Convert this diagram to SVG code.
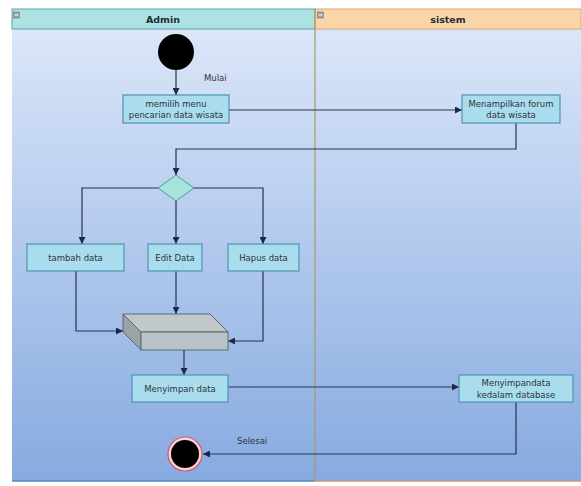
<svg xmlns="http://www.w3.org/2000/svg" width="581" height="486" viewBox="0 0 581 486">
  <defs>
    <linearGradient id="laneBg" x1="0" y1="0" x2="0" y2="1">
      <stop offset="0" stop-color="#dbe6f9"/>
      <stop offset="1" stop-color="#86aae0"/>
    </linearGradient>
    <marker id="arrow" viewBox="0 0 10 10" refX="10" refY="5" markerWidth="7" markerHeight="7" orient="auto" markerUnits="userSpaceOnUse">
      <path d="M0,0 L10,5 L0,10 Z" fill="#1c2a48"/>
    </marker>
    <style>
      .act { fill: #a9dcec; stroke: #4d93b4; stroke-width: 1.2; }
      .lbl { font-family: "DejaVu Sans", "Liberation Sans", sans-serif; font-size: 8.5px; fill: #2e3440; text-anchor: middle; }
      .note { font-family: "DejaVu Sans", "Liberation Sans", sans-serif; font-size: 8.5px; fill: #2e3440; }
      .hdr { font-family: "DejaVu Sans", "Liberation Sans", sans-serif; font-size: 9.5px; font-weight: bold; fill: #1f2a36; text-anchor: middle; }
      .flow { fill: none; stroke: #25344f; stroke-width: 1.2; marker-end: url(#arrow); }
      .flowPlain { fill: none; stroke: #25344f; stroke-width: 1.2; }
      .toggle { fill: #9aa4a8; stroke: #6b7478; stroke-width: 0.6; }
    </style>
  </defs>

  <rect width="581" height="486" fill="#ffffff"/>

  <!-- swimlanes -->
  <g id="lane-admin">
    <rect x="12" y="29" width="303" height="452" fill="url(#laneBg)"/>
    <rect x="12" y="9" width="303" height="20" fill="#ade2e3" stroke="#5aa3b0" stroke-width="1"/>
    <rect x="13.5" y="12" width="6" height="6" class="toggle"/>
    <line x1="14.5" y1="15" x2="18.5" y2="15" stroke="#ffffff" stroke-width="1"/>
    <text x="163" y="22.5" class="hdr">Admin</text>
    <line x1="12" y1="481" x2="315" y2="481" stroke="#5a88b4" stroke-width="1.5"/>
  </g>
  <g id="lane-sistem">
    <rect x="315" y="29" width="266" height="452" fill="url(#laneBg)"/>
    <rect x="315" y="9" width="266" height="20" fill="#fbd5a8" stroke="#d8a874" stroke-width="1"/>
    <rect x="317.5" y="12" width="6" height="6" class="toggle"/>
    <line x1="318.5" y1="15" x2="322.5" y2="15" stroke="#ffffff" stroke-width="1"/>
    <text x="448" y="22.5" class="hdr">sistem</text>
    <line x1="315" y1="9" x2="315" y2="481" stroke="#a99a62" stroke-width="1.2"/>
    <line x1="315" y1="481" x2="581" y2="481" stroke="#c0947e" stroke-width="1.5"/>
  </g>

  <!-- connectors -->
  <g id="connectors">
    <line x1="176" y1="70" x2="176" y2="95" class="flow"/>
    <line x1="229" y1="110" x2="462" y2="110" class="flow"/>
    <polyline points="516,123 516,149 176,149 176,175" class="flow"/>
    <polyline points="158,188 82,188 82,244" class="flow"/>
    <line x1="176" y1="201" x2="176" y2="244" class="flow"/>
    <polyline points="193,188 263,188 263,244" class="flow"/>
    <polyline points="76,271 76,331 123,331" class="flow"/>
    <line x1="176" y1="271" x2="176" y2="314" class="flow"/>
    <polyline points="263,271 263,341 228,341" class="flow"/>
    <line x1="184" y1="350" x2="184" y2="375" class="flow"/>
    <line x1="228" y1="387" x2="459" y2="387" class="flow"/>
    <polyline points="516,402 516,454 203,454" class="flow"/>
  </g>

  <!-- nodes -->
  <g id="start">
    <circle cx="176" cy="52" r="18" fill="#000000"/>
    <text x="204" y="81" class="note">Mulai</text>
  </g>

  <g id="pilih-menu">
    <rect x="123" y="95" width="106" height="28" class="act"/>
    <text x="176" y="106.5" class="lbl">memilih menu</text>
    <text x="176" y="118" class="lbl">pencarian data wisata</text>
  </g>

  <g id="tampil-forum">
    <rect x="462" y="95" width="98" height="28" class="act"/>
    <text x="511" y="106.5" class="lbl">Menampilkan forum</text>
    <text x="511" y="118" class="lbl">data wisata</text>
  </g>

  <g id="decision">
    <polygon points="176,175 194,188 176,201 158,188" fill="#a6e3da" stroke="#4f9aa5" stroke-width="1"/>
  </g>

  <g id="tambah-data">
    <rect x="27" y="244" width="97" height="27" class="act"/>
    <text x="75.5" y="261" class="lbl">tambah data</text>
  </g>

  <g id="edit-data">
    <rect x="148" y="244" width="54" height="27" class="act"/>
    <text x="175" y="261" class="lbl">Edit Data</text>
  </g>

  <g id="hapus-data">
    <rect x="228" y="244" width="71" height="27" class="act"/>
    <text x="263.5" y="261" class="lbl">Hapus data</text>
  </g>

  <g id="gabung">
    <polygon points="123,314 210,314 228,332 141,332" fill="#c2c8ca" stroke="#5b6a72" stroke-width="1"/>
    <polygon points="123,314 141,332 141,350 123,332" fill="#9aa3a7" stroke="#5b6a72" stroke-width="1"/>
    <rect x="141" y="332" width="87" height="18" fill="#b9c3c7" stroke="#5b6a72" stroke-width="1"/>
  </g>

  <g id="simpan-data">
    <rect x="132" y="375" width="96" height="27" class="act"/>
    <text x="180" y="391.5" class="lbl">Menyimpan data</text>
  </g>

  <g id="simpan-database">
    <rect x="459" y="375" width="114" height="27" class="act"/>
    <text x="516" y="386" class="lbl">Menyimpandata</text>
    <text x="516" y="397.5" class="lbl">kedalam database</text>
  </g>

  <g id="end">
    <circle cx="185" cy="454" r="17" fill="#f4d4da" stroke="#d8566c" stroke-width="1.2"/>
    <circle cx="185" cy="454" r="14" fill="#000000"/>
    <text x="237" y="444" class="note">Selesai</text>
  </g>
</svg>
